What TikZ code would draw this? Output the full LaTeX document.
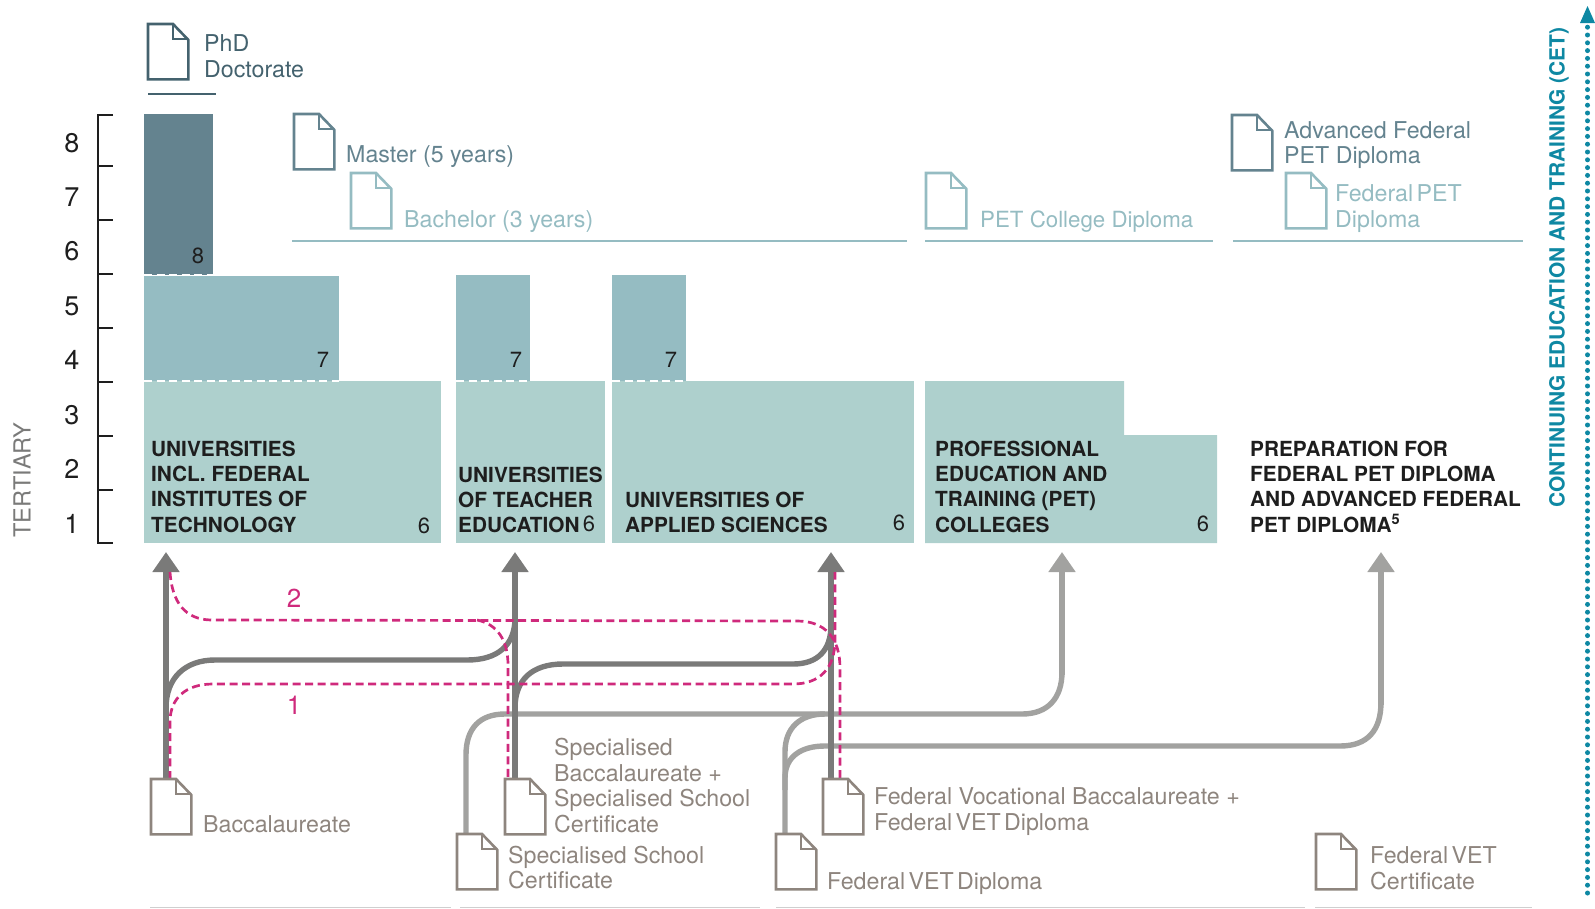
\documentclass[tikz,border=0pt]{standalone}
\usepackage{fontspec}
\setmainfont{TeX Gyre Heros}
\usetikzlibrary{arrows.meta,calc}
\definecolor{cDark}{HTML}{44626E}
\definecolor{cMid}{HTML}{64838F}
\definecolor{cTeal}{HTML}{95BCC2}
\definecolor{cLight}{HTML}{AED0CD}
\definecolor{cTaupe}{HTML}{8E857E}
\definecolor{cGreyA}{HTML}{7A7A79}
\definecolor{cGreyB}{HTML}{A2A2A0}
\definecolor{cPink}{HTML}{CF2A7C}
\definecolor{cCET}{HTML}{0E88A3}
\definecolor{cRule}{HTML}{CFCFCF}
\definecolor{cInk}{HTML}{1E1E1E}
\newcommand{\tightsp}{\hspace{-3pt}}
\tikzset{
  lab/.style={anchor=west,align=left,inner sep=0,font=\fontsize{23.2}{25.5}\selectfont},
  labtight/.style={anchor=west,align=left,inner sep=0,font=\fontsize{22.3}{25.5}\selectfont},
  boxlab/.style={anchor=west,align=left,inner sep=0,text=cInk,font=\fontsize{20.8}{25.3}\selectfont\bfseries},
  digit/.style={inner sep=0,text=cInk,font=\fontsize{22}{25}\selectfont},
  scalenum/.style={inner sep=0,text=cInk,font=\fontsize{27}{30}\selectfont},
  darkflow/.style={draw=cGreyA,line width=5.4pt},
  lightflow/.style={draw=cGreyB,line width=5.4pt},
  pinkflow/.style={draw=cPink,line width=2.7pt,dash pattern=on 8pt off 4.6pt},
  tip/.style={-{Triangle[width=26pt,length=20pt]}},
  whitedash/.style={draw=white,line width=2pt,dash pattern=on 8pt off 4.5pt},
  divider/.style={draw=cTeal,line width=2.8pt},
  tick/.style={draw=cInk,line width=1.8pt},
}
\newcommand{\docicon}[4]{%
  \node[minimum width=40pt,minimum height=55pt,inner sep=0,anchor=north west] (#1) at (#2,#3) {};
  \draw[#4,line width=2.6pt,fill=white,line join=miter]
    (#1.south west) -- (#1.north west) -- ++(25,0) -- (#1.east|-{$(#1.north)+(0,16)$}) -- (#1.south east) -- cycle;
  \draw[#4,line width=2.6pt] ($(#1.north west)+(25,0)$) -- ++(0,15) -- (#1.east|-{$(#1.north)+(0,15)$});
}
\begin{document}
\begin{tikzpicture}[x=1pt,y=-1pt]
\useasboundingbox (0,0) rectangle (1595,908);
% boxes
\fill[cMid] (144,114) rectangle (213,275);
\draw[whitedash] (144,274.5) -- (213,274.5);
\fill[cTeal] (144,276) rectangle (339,381);
\fill[cTeal] (456,275) rectangle (530,381);
\fill[cTeal] (612,275) rectangle (686,381);
\fill[cLight] (144,381) rectangle (441,543);
\fill[cLight] (456,381) rectangle (605,543);
\fill[cLight] (612,381) rectangle (914,543);
\fill[cLight] (925,381) -- (1124,381) -- (1124,435) -- (1217,435) -- (1217,543) -- (925,543) -- cycle;
\draw[whitedash] (144,380.5) -- (339,380.5);
\draw[whitedash] (456,380.5) -- (530,380.5);
\draw[whitedash] (612,380.5) -- (686,380.5);
% scale
\draw[tick] (113,115) -- (98,115) -- (98,543) -- (113,543);
\foreach \y in {166,220,274,328,382,436,490} \draw[tick] (98,\y) -- (113,\y);
\foreach \n/\y in {8/143,7/197,6/251,5/306,4/360,3/415,2/469,1/524}
  \node[scalenum] (sc\n) at (72,\y) {\n};
\node[rotate=90,inner sep=0,text=cGreyA,font=\fontsize{23.6}{30}\selectfont] (tert) at (22,480) {TERTIARY};
% dividers
\draw[cDark,line width=2.8pt] (148,94) -- (216,94);
\draw[divider] (292,241) -- (907,241);
\draw[divider] (925,241) -- (1213,241);
\draw[divider] (1233,241) -- (1523,241);
\foreach \a/\b in {150/451,460/760,776/1305,1315/1532}
  \draw[cRule,line width=1.8pt] (\a,907.5) -- (\b,907.5);
% anchors of flows
\coordinate (a1) at (166,552);
\coordinate (a2) at (515,552);
\coordinate (a3) at (831,552);
\coordinate (a4) at (1062,552);
\coordinate (a5) at (1381,552);
% light flows
\draw[lightflow] (466,834) -- (466,755) .. controls (466,728) and (480,714) .. (505,714) -- (1022,714) .. controls (1048,714) and (1062,698) .. (1062,672);
\draw[lightflow,tip] (1062,675) -- (a4);
\draw[lightflow] (785,834) -- (785,752) .. controls (785,728) and (800,714) .. (825,714);
\draw[lightflow] (785,790) -- (785,778) .. controls (785,756) and (802,746) .. (825,746) -- (1340,746) .. controls (1368,746) and (1381,730) .. (1381,702);
\draw[lightflow,tip] (1381,705) -- (a5);
% dark flows
\draw[darkflow] (166,708) .. controls (166,678) and (185,660) .. (215,660) -- (467,660) .. controls (498,660) and (515,645) .. (515,618);
\draw[darkflow] (515,708) .. controls (515,680) and (532,664) .. (563,664) -- (793,664) .. controls (818,664) and (831,650) .. (831,625);
\draw[darkflow,tip] (166,779) -- (a1);
\draw[darkflow,tip] (515,779) -- (a2);
\draw[darkflow,tip] (831,779) -- (a3);
% pink flows
\draw[pinkflow] (170,572) .. controls (172,602) and (185,620) .. (212,620) -- (797,621) .. controls (825,621) and (840,638) .. (840,668) -- (840,779);
\draw[pinkflow] (477,620) .. controls (497,624) and (508,640) .. (508,665) -- (508,779);
\draw[pinkflow] (170,779) -- (170,722) .. controls (170,698) and (186,684) .. (213,684) -- (793,684) .. controls (820,684) and (835,668) .. (835,640) -- (835,572);
\node[inner sep=0,text=cPink,font=\fontsize{26}{30}\selectfont] (two) at (294,598) {2};
\node[inner sep=0,text=cPink,font=\fontsize{26}{30}\selectfont] (one) at (294,705) {1};
% icons
\docicon{iPhd}{148}{24}{cDark}
\docicon{iMas}{294}{114}{cMid}
\docicon{iBac}{351}{173}{cTeal}
\docicon{iPet}{926}{173}{cTeal}
\docicon{iAdv}{1232}{115}{cMid}
\docicon{iFed}{1286}{173}{cTeal}
\docicon{iBacc}{151}{779}{cTaupe}
\docicon{iSpB}{505}{779}{cTaupe}
\docicon{iSpS}{457}{834}{cTaupe}
\docicon{iVoc}{823}{779}{cTaupe}
\docicon{iVet}{776}{834}{cTaupe}
\docicon{iCer}{1316}{834}{cTaupe}
% labels
\node[lab,text=cDark] (tPhd) at (204,56) {PhD\\Doctorate};
\node[lab,text=cMid] (tMas) at (346,157) {Master (5 years)};
\node[lab,text=cTeal] (tBac) at (404,222) {Bachelor (3 years)};
\node[labtight,text=cTeal] (tPet) at (980,222) {PET College Diploma};
\node[lab,text=cMid] (tAdv) at (1284,145) {Advanced Federal\\PET Diploma};
\node[lab,text=cTeal] (tFed) at (1335,208.5) {Federal\tightsp{} PET\\Diploma};
\node[lab,text=cTaupe] (tBacc) at (203,824) {Baccalaureate};
\node[lab,text=cTaupe] (tSpB) at (554,785.5) {Specialised\\Baccalaureate +\\Specialised School\\Certificate};
\node[lab,text=cTaupe] (tSpS) at (508,867.5) {Specialised School\\Certificate};
\node[lab,text=cTaupe] (tVoc) at (874,811.5) {Federal Vocational Baccalaureate +\\Federal\tightsp{} VET\tightsp{} Diploma};
\node[lab,text=cTaupe] (tVet) at (827,884) {Federal\tightsp{} VET\tightsp{} Diploma};
\node[lab,text=cTaupe] (tCer) at (1370,868) {Federal\tightsp{} VET\\Certificate};
% box labels
\node[boxlab] (bU) at (151,486.5) {UNIVERSITIES\\INCL. FEDERAL\\INSTITUTES OF\\TECHNOLOGY};
\node[boxlab] (bT) at (458,500) {UNIVERSITIES\\OF TEACHER\\EDUCATION};
\node[boxlab] (bA) at (625,512.5) {UNIVERSITIES OF\\APPLIED SCIENCES};
\node[boxlab] (bP) at (935,486.5) {PROFESSIONAL\\EDUCATION AND\\TRAINING (PET)\\COLLEGES};
\node[boxlab] (bF) at (1250,486.5) {PREPARATION FOR\\FEDERAL PET DIPLOMA\\AND ADVANCED FEDERAL\\PET DIPLOMA\textsuperscript{5}};
\foreach \nm/\t/\x/\y in {d1/8/198/256,d2/7/323/360,d3/7/516/360,d4/7/671/360,d5/6/424/526,d6/6/589/524,d7/6/899/523,d8/6/1203/524}
  \node[digit] (\nm) at (\x,\y) {\t};
% CET
\node[rotate=90,inner sep=0,text=cCET,font=\fontsize{20.9}{28}\selectfont\bfseries] (cet) at (1559,267.5) {CONTINUING EDUCATION AND TRAINING (CET)};
\coordinate (c0) at (1587.5,893);
\coordinate (c1) at (1587.5,23);
\draw[cCET,line width=5pt,line cap=round,dash pattern=on 0pt off 7.8pt] (c0) -- (c1);
\fill[cCET] (1587.5,6) -- (1595,23) -- (1580,23) -- cycle;
\end{tikzpicture}
\end{document}
